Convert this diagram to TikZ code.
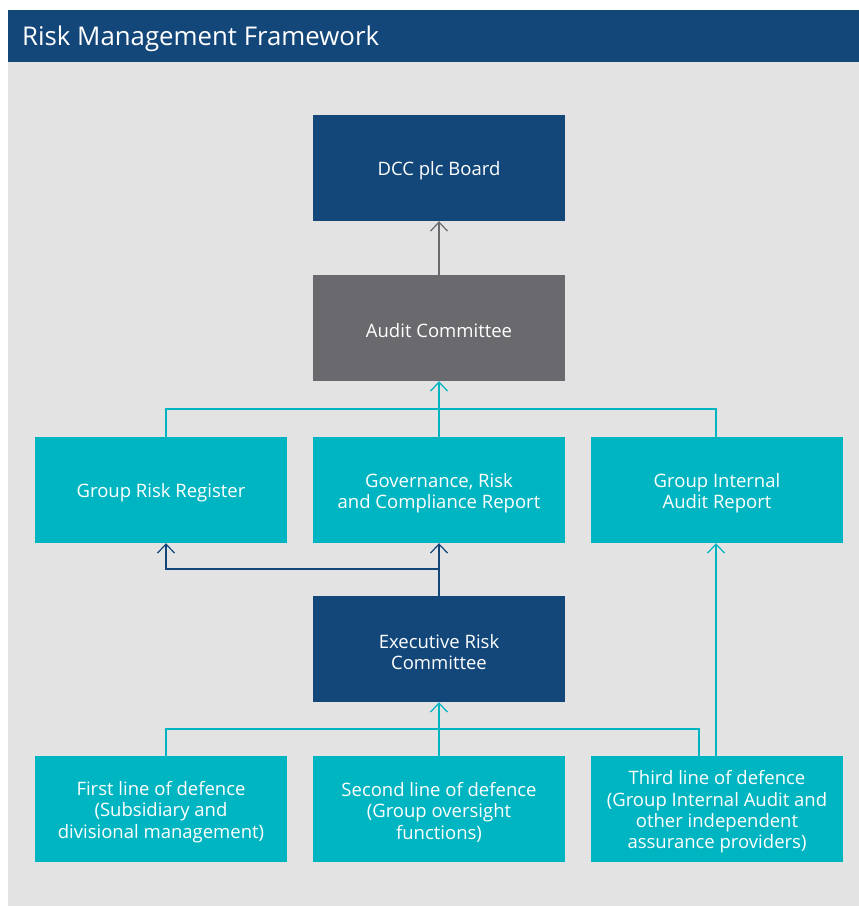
\documentclass[tikz,border=0pt]{standalone}
\usepackage{fontspec}
\setmainfont{Open Sans}
\usetikzlibrary{arrows.meta}
\definecolor{navy}{HTML}{13477A}
\definecolor{boxteal}{HTML}{00B5C2}
\definecolor{slate}{HTML}{6A696E}
\definecolor{panel}{HTML}{E3E3E3}
\tikzset{
  box/.style={minimum width=252pt, minimum height=106pt, inner sep=0pt},
  navybox/.style={box, fill=navy},
  tealbox/.style={box, fill=boxteal},
  slatebox/.style={box, fill=slate},
  boxtext/.style={inner sep=0pt, text=white, align=center,
    font=\fontsize{18.5}{21.4}\selectfont, yshift=-3pt},
  link/.style={line width=1.2pt, line cap=rect},
  up/.style={link, -{Straight Barb[length=9pt,width=17pt,line width=1.2pt]}},
}
\begin{document}
\begin{tikzpicture}[x=1pt,y=-1pt]
  \useasboundingbox (0,0) rectangle (859,906);
  % panel and title bar
  \fill[panel] (8,62) rectangle (859,906);
  \fill[navy] (8,10) rectangle (859,62);
  \node[anchor=base west, text=white, inner sep=0pt,
        font=\fontsize{25.8}{30}\selectfont] (title) at (22,45.5) {Risk Management Framework};

  % boxes
  \node[navybox]  (board)  at (439,168) {};
  \node[slatebox] (audit)  at (439,328) {};
  \node[tealbox]  (grr)    at (161,490) {};
  \node[tealbox]  (grc)    at (439,490) {};
  \node[tealbox]  (gia)    at (717,490) {};
  \node[navybox]  (erc)    at (439,649) {};
  \node[tealbox]  (first)  at (161,809) {};
  \node[tealbox]  (second) at (439,809) {};
  \node[tealbox]  (third)  at (717,809) {};

  % box captions
  \node[boxtext] (board-t)  at (board)  {DCC plc Board};
  \node[boxtext] (audit-t)  at (audit)  {Audit Committee};
  \node[boxtext] (grr-t)    at (grr)    {Group Risk Register};
  \node[boxtext] (grc-t)    at (grc)    {Governance, Risk\\and Compliance Report};
  \node[boxtext] (gia-t)    at (gia)    {Group Internal\\Audit Report};
  \node[boxtext] (erc-t)    at (erc)    {Executive Risk\\Committee};
  \node[boxtext] (first-t)  at (first)  {First line of defence\\(Subsidiary and\\divisional management)};
  \node[boxtext] (second-t) at (second) {Second line of defence\\(Group oversight\\functions)};
  \node[boxtext] (third-t)  at (third)  {Third line of defence\\(Group Internal Audit and\\other independent\\assurance providers)};

  % junction points
  \coordinate (j1) at (439,409);
  \coordinate (j2) at (439,569);
  \coordinate (j3) at (439,729);

  % connectors
  \draw[up, slate] (audit.north) -- (board.south);

  \draw[link, boxteal] ([xshift=5pt]grr.north) |- (j1) -| ([xshift=-1pt]gia.north);
  \draw[up, boxteal] (grc.north) -- (audit.south);

  \draw[up, navy] (erc.north) -- (grc.south);
  \draw[up, navy] (j2) -| ([xshift=5pt]grr.south);

  \draw[link, boxteal] ([xshift=5pt]first.north) |- (j3) -| ([xshift=-18pt]third.north);
  \draw[up, boxteal] (second.north) -- (erc.south);
  \draw[up, boxteal] ([xshift=-1pt]third.north) -- ([xshift=-1pt]gia.south);
\end{tikzpicture}
\end{document}
